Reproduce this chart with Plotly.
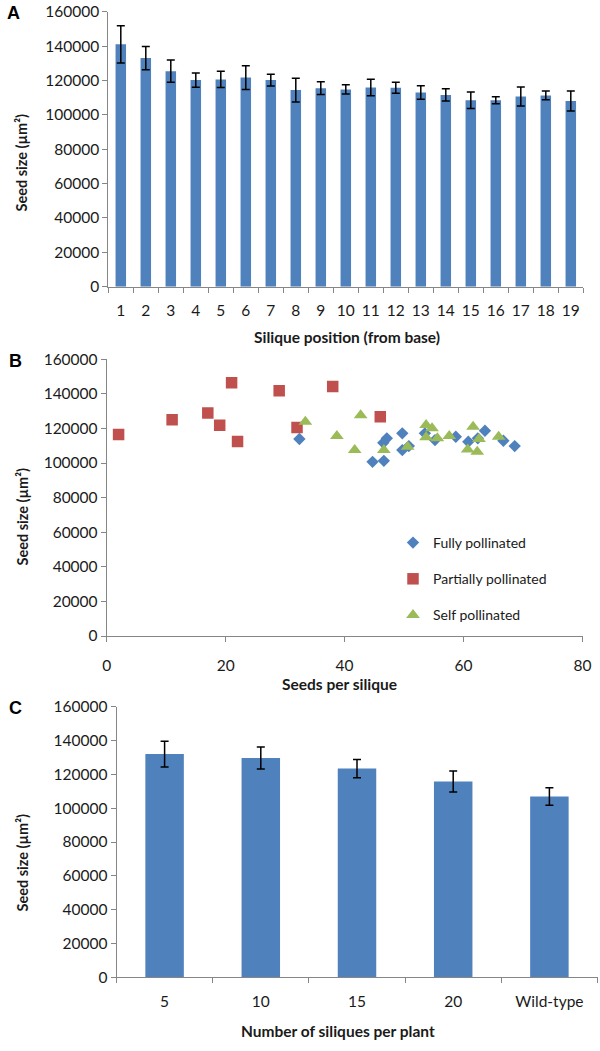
import plotly.graph_objects as go

# ---------------- data ----------------
# Panel A
A_positions = [str(i) for i in range(1, 20)]
A_values = [141000, 133000, 125400, 120200, 120600, 121700, 120200, 114400, 115500, 114800,
            115900, 115700, 113000, 111600, 108500, 108500, 110700, 111300, 108000]
A_errors = [10800, 6800, 6500, 4200, 4700, 6900, 3400, 6900, 3700, 2700,
            4800, 3200, 3900, 3600, 4800, 2000, 5500, 2500, 5800]

# Panel B
fully_x = [32.4, 44.7, 46.6, 47.1, 46.5, 49.7, 49.7, 50.8, 53.5, 55.2, 58.7, 60.8, 62.4, 63.6, 66.7, 68.6]
fully_y = [113900, 100700, 101300, 114300, 111700, 117200, 107500, 109800, 117200, 113300,
           115200, 112300, 114300, 118700, 112900, 109800]
partial_x = [2, 11, 17, 19, 21, 22, 29, 32, 38, 46]
partial_y = [116500, 125000, 129000, 121800, 146500, 112500, 141800, 120600, 144200, 126800]
self_x = [33.4, 38.7, 42.7, 41.7, 46.6, 50.6, 53.7, 54.7, 53.7, 55.6, 57.6, 61.6, 62.6, 60.7, 62.3, 65.9]
self_y = [123900, 115600, 127700, 107500, 107500, 109400, 122000, 120100, 114900, 114300,
          115600, 121000, 113900, 107900, 106500, 115200]

# Panel C
C_categories = ["5", "10", "15", "20", "Wild-type"]
C_values = [132000, 129600, 123400, 115800, 106900]
C_errors = [7600, 6500, 5400, 6200, 5200]

y_ticks = [0, 20000, 40000, 60000, 80000, 100000, 120000, 140000, 160000]
B_x_ticks = [0, 20, 40, 60, 80]

# ---------------- styling ----------------
W, H = 600, 1051
BLUE = "#4F81BD"
RED = "#C0504D"
GREEN = "#9BBB59"
AXIS_COLOR = "#868686"
TEXT = "#1a1a1a"
FONT = "Lato"
TICK_SIZE = 15.5
TITLE_SIZE = 15.5
YTITLE_SIZE = 14.5


def px_x(p):
    return p / W


def px_y(p):
    return 1 - p / H


fig = go.Figure()

err_style = dict(type="data", visible=True, color="black", thickness=1.5, width=4)

fig.add_trace(go.Bar(x=A_positions, y=A_values, error_y=dict(array=A_errors, **err_style),
                     marker=dict(color=BLUE, line=dict(width=0)), width=0.42,
                     xaxis="x", yaxis="y", showlegend=False))

fig.add_trace(go.Scatter(x=fully_x, y=fully_y, mode="markers", name="Fully pollinated",
                         marker=dict(symbol="diamond", size=9.5, color=BLUE),
                         xaxis="x2", yaxis="y2", legendgroup="a"))
fig.add_trace(go.Scatter(x=partial_x, y=partial_y, mode="markers", name="Partially pollinated",
                         marker=dict(symbol="square", size=11.5, color=RED),
                         xaxis="x2", yaxis="y2", legendgroup="b"))
fig.add_trace(go.Scatter(x=self_x, y=self_y, mode="markers", name="Self pollinated",
                         marker=dict(symbol="triangle-up", size=12, color=GREEN),
                         xaxis="x2", yaxis="y2", legendgroup="c"))

fig.add_trace(go.Bar(x=C_categories, y=C_values, error_y=dict(array=C_errors, **err_style),
                     marker=dict(color=BLUE, line=dict(width=0)), width=0.4,
                     xaxis="x3", yaxis="y3", showlegend=False))

tickfont = dict(family=FONT, size=TICK_SIZE, color=TEXT)
common_axis = dict(showline=True, linecolor=AXIS_COLOR, linewidth=1, showgrid=False,
                   zeroline=False, ticks="outside", ticklen=5, tickcolor=AXIS_COLOR,
                   tickfont=tickfont, automargin=False)

yaxis_common = dict(common_axis, range=[0, 160000], tickvals=y_ticks,
                    ticktext=[str(v) for v in y_ticks])

fig.update_layout(
    template="none",
    width=W, height=H,
    margin=dict(l=0, r=0, t=0, b=0, pad=0),
    paper_bgcolor="white", plot_bgcolor="white",
    font=dict(family=FONT, color=TEXT),
    xaxis=dict(common_axis, type="category", domain=[px_x(108.3), px_x(583.3)],
               tickson="boundaries", anchor="y", ticklabelstandoff=10, tickangle=0),
    yaxis=dict(yaxis_common, domain=[px_y(286.7), px_y(11.7)], anchor="x"),
    xaxis2=dict(common_axis, domain=[px_x(106.7), px_x(582.5)], range=[0, 80],
                tickvals=B_x_ticks, anchor="y2", ticklabelstandoff=10, tickangle=0),
    yaxis2=dict(yaxis_common, domain=[px_y(636), px_y(359.3)], anchor="x2"),
    xaxis3=dict(common_axis, type="category", domain=[px_x(116.5), px_x(597.5)],
                tickson="boundaries", anchor="y3", ticklabelstandoff=10, tickangle=0),
    yaxis3=dict(yaxis_common, domain=[px_y(977.3), px_y(706.7)], anchor="x3"),
    showlegend=True,
    legend=dict(x=px_x(393), y=px_y(527), xanchor="left", yanchor="top",
                font=dict(family=FONT, size=14, color=TEXT), tracegroupgap=15,
                bgcolor="rgba(0,0,0,0)", borderwidth=0),
)

annotations = []
# Axis titles
for text, x, y in [("Silique position (from base)", 346.5, 337.3),
                   ("Seeds per silique", 339.5, 684),
                   ("Number of siliques per plant", 338, 1030.7)]:
    annotations.append(dict(text=f"<b>{text}</b>", x=px_x(x), y=px_y(y), xref="paper", yref="paper",
                            showarrow=False, xanchor="center", yanchor="middle",
                            font=dict(family=FONT, size=TITLE_SIZE, color=TEXT)))
for y in [163, 517, 863]:
    annotations.append(dict(text="<b>Seed size (µm²)</b>", x=px_x(21.5), y=px_y(y), xref="paper",
                            yref="paper", showarrow=False, textangle=-90,
                            xanchor="center", yanchor="middle",
                            font=dict(family=FONT, size=YTITLE_SIZE, color=TEXT)))
# Panel letters
for letter, x, y in [("A", 13.5, 13), ("B", 15, 361), ("C", 15.5, 708)]:
    annotations.append(dict(text=f"<b>{letter}</b>", x=px_x(x), y=px_y(y), xref="paper", yref="paper",
                            showarrow=False, xanchor="center", yanchor="middle",
                            font=dict(family="Liberation Sans", size=18, color="black")))
fig.update_layout(annotations=annotations)

fig.write_html("out.html", config={"displayModeBar": False},
               post_script="document.body.style.margin='0';")
